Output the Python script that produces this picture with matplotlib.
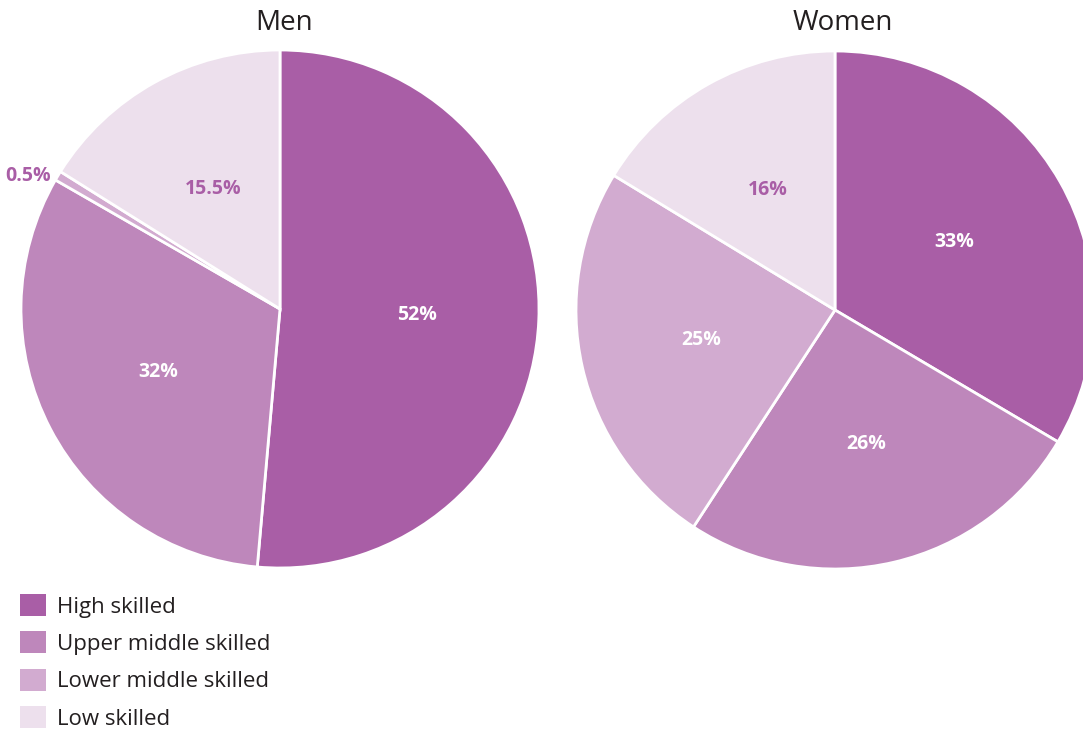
import numpy as np
import matplotlib
matplotlib.use("Agg")
import matplotlib.pyplot as plt
from matplotlib.patches import Patch

plt.rcParams['font.family'] = ['Open Sans', 'DejaVu Sans']

categories = ["High skilled", "Upper middle skilled", "Lower middle skilled", "Low skilled"]
# slice shares as drawn in the picture (labels carry the published figures)
men = [51.4, 31.9, 0.6, 16.1]
women = [33.5, 25.7, 24.5, 16.3]
men_labels = ["52%", "32%", "0.5%", "15.5%"]
women_labels = ["33%", "26%", "25%", "16%"]
colors = ["#a95ea6", "#be87bb", "#d2abd0", "#ede0ed"]
label_colors = ["white", "white", "white", "#a95ea6"]

W, H = 1083, 730
fig = plt.figure(figsize=(W / 100, H / 100), dpi=100)


def draw_pie(cx, cy, r, values, labels, title, title_x):
    ax = fig.add_axes([(cx - r) / W, (H - cy - r) / H, 2 * r / W, 2 * r / H])
    wedges, _ = ax.pie(values, colors=colors, startangle=90, counterclock=False,
                       radius=1, wedgeprops=dict(edgecolor="white", linewidth=2))
    for w, lab, val, lc in zip(wedges, labels, values, label_colors):
        mid = np.deg2rad((w.theta1 + w.theta2) / 2)
        if val < 2:
            ax.text(1.03 * np.cos(mid), 1.0 * np.sin(mid), lab, ha="right", va="center",
                    fontsize=14, fontweight="bold", color=colors[0])
        else:
            d = 0.53
            ax.text(d * np.cos(mid), d * np.sin(mid), lab, ha="center", va="center",
                    fontsize=14, fontweight="bold", color=lc)
    ax.set_xlim(-1, 1)
    ax.set_ylim(-1, 1)
    ax.set_aspect("equal")
    ax.axis("off")
    fig.text(title_x / W, 1 - 23 / H, title, ha="center", va="center",
             fontsize=20, color="#231f20")


draw_pie(280, 309, 259, men, men_labels, "Men", 284)
draw_pie(835, 310, 259, women, women_labels, "Women", 843)

handles = [Patch(facecolor=c, edgecolor="none") for c in colors]
fig.legend(handles, categories, loc="upper left", bbox_to_anchor=(20 / W, 1 - 594 / H),
           frameon=False, fontsize=16, handlelength=1.15, handleheight=1.15,
           handletextpad=0.5, labelspacing=0.62, borderpad=0, borderaxespad=0,
           labelcolor="#231f20")

fig.savefig("out.png", dpi=100)
